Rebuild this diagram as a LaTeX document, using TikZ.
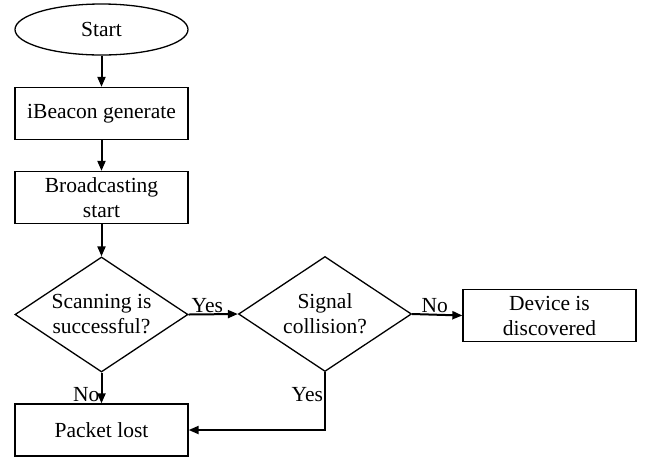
\documentclass[tikz,border=0pt]{standalone}
\usepackage{fontspec}
\setmainfont{Liberation Serif}
\usetikzlibrary{shapes.geometric,arrows.meta}
\begin{document}
\begin{tikzpicture}[x=1pt,y=-1pt,
  every node/.style={font=\fontsize{21.5}{25}\selectfont},
  shapebase/.style={draw,line width=1.3pt,inner sep=0pt,align=center},
  termbox/.style={shapebase,ellipse,minimum width=173pt,minimum height=51pt},
  procbox/.style={shapebase,rectangle,minimum width=173pt,minimum height=52pt},
  decbox/.style={shapebase,diamond,aspect=1.5,minimum width=173pt,minimum height=115pt},
  flow/.style={line width=2pt,-{Triangle[length=10pt,width=8pt]}},
  lbl/.style={inner sep=1pt}]
\useasboundingbox (0,0) rectangle (658,459);

\node[termbox] (start) at (101.5,29.5) {Start};
\node[procbox] (gen) at (101.5,113.5) {iBeacon generate};
\node[procbox] (bcast) at (101.5,197.5) {Broadcasting\\start};
\node[decbox] (scan) at (101.5,314.5) {Scanning is\\successful?};
\node[decbox] (coll) at (325,314) {Signal\\collision?};
\node[procbox] (found) at (549.5,315.5) {Device is\\discovered};
\node[procbox] (lost) at (101.5,430) {Packet lost};

\draw[flow] (start) -- (gen);
\draw[flow] (gen) -- (bcast);
\draw[flow] (bcast) -- (scan);
\draw[flow] (scan.east) -- node[lbl,above,pos=0.38] {Yes} (coll.west);
\draw[flow] (coll.east) -- node[lbl,above,pos=0.45] {No} (found.west);
\draw[flow] (scan.south) -- node[lbl,left,pos=0.72] {No} (lost.north);
\draw[flow] (coll.south) |- node[lbl,left,pos=0.19] {Yes} (lost.east);
\end{tikzpicture}
\end{document}
